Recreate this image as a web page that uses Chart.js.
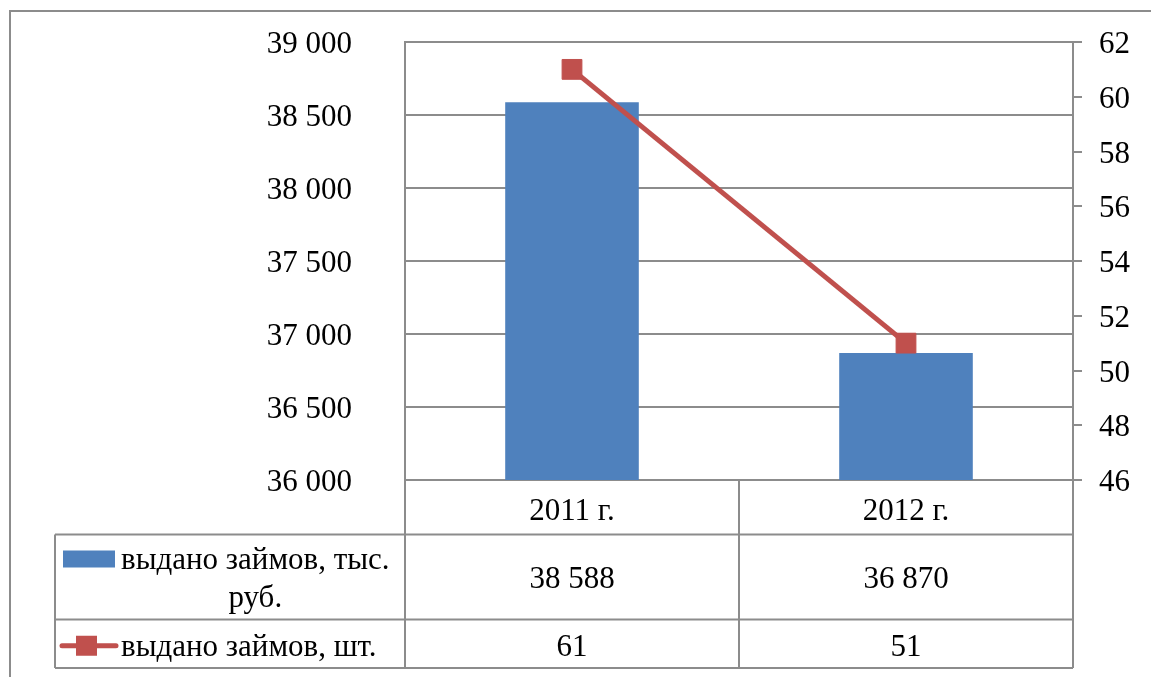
<!DOCTYPE html>
<html>
<head>
<meta charset="utf-8">
<script src="https://cdn.jsdelivr.net/npm/chart.js@4/dist/chart.umd.min.js"></script>
<style>
    body { margin: 0; background: #ffffff; }
    canvas { display: block; }
</style>
</head>
<body>
<canvas id="myChart" width="1151" height="677"></canvas>
<script>
// chart data
const categories = ['2011 г.', '2012 г.'];
const loansRub = [38588, 36870];
const loansCount = [61, 51];
const seriesNames = ['выдано займов, тыс. руб.', 'выдано займов, шт.'];

const leftAxis = { min: 36000, max: 39000, step: 500 };
const rightAxis = { min: 46, max: 62, step: 2 };

const FONT = '"Liberation Serif", "Times New Roman", serif';
const FONT_SIZE = 31;
const GRID = '#8c8c8c';
const BLUE = '#4F81BD';
const RED = '#C0504D';

function fmt(v) {
    return String(v).replace(/\B(?=(\d{3})+(?!\d))/g, ' ');
}

function wrapText(ctx, text, maxWidth) {
    const words = text.split(' ');
    const lines = [];
    let line = '';
    words.forEach(w => {
        const test = line ? line + ' ' + w : w;
        if (line && ctx.measureText(test).width > maxWidth) {
            lines.push(line);
            line = w;
        } else {
            line = test;
        }
    });
    if (line) lines.push(line);
    return lines;
}

// fixed axis width, no extra padding from the big tick padding
function fixAxis(width) {
    return s => {
        s.width = width;
        s.paddingTop = 0;
        s.paddingBottom = 0;
    };
}

// outer frame + data table under the plot
const dataTable = {
    id: 'dataTable',
    beforeDraw(chart) {
        const ctx = chart.ctx;
        ctx.save();
        ctx.fillStyle = '#ffffff';
        ctx.fillRect(0, 0, chart.width, chart.height);
        ctx.strokeStyle = GRID;
        ctx.lineWidth = 2;
        ctx.strokeRect(10, 11, 1400, 900);
        ctx.restore();
    },
    afterDraw(chart) {
        const ctx = chart.ctx;
        const area = chart.chartArea;
        const n = categories.length;
        const colW = (area.right - area.left) / n;
        const tableLeft = 55;
        const yTop = area.bottom;
        const yHead = yTop + 54.5;
        const yRow1 = yHead + 85;
        const yRow2 = yRow1 + 48.5;

        ctx.save();
        ctx.strokeStyle = GRID;
        ctx.lineWidth = 2;
        ctx.beginPath();
        // horizontal lines
        [yHead, yRow1, yRow2].forEach(y => {
            ctx.moveTo(tableLeft, y);
            ctx.lineTo(area.right, y);
        });
        // vertical lines
        for (let i = 0; i <= n; i++) {
            const x = area.left + i * colW;
            ctx.moveTo(x, yTop);
            ctx.lineTo(x, yRow2);
        }
        ctx.moveTo(tableLeft, yHead);
        ctx.lineTo(tableLeft, yRow2);
        ctx.stroke();

        ctx.fillStyle = '#000000';
        ctx.font = `${FONT_SIZE}px ${FONT}`;
        ctx.textAlign = 'center';
        ctx.textBaseline = 'middle';

        const xScale = chart.scales.x;
        const midHead = (yTop + yHead) / 2 + 5;
        const midRow1 = (yHead + yRow1) / 2 + 3;
        const midRow2 = (yRow1 + yRow2) / 2 + 4;
        categories.forEach((c, i) => {
            const cx = xScale.getPixelForValue(i);
            ctx.fillText(c, cx, midHead);
            ctx.fillText(fmt(loansRub[i]), cx, midRow1);
            ctx.fillText(fmt(loansCount[i]), cx, midRow2);
        });

        // legend cells
        const textX = 121;
        const maxW = area.left - textX - 6;
        const lineH = 38;
        const rows = [midRow1, midRow2];
        seriesNames.forEach((name, r) => {
            const lines = wrapText(ctx, name, maxW);
            const firstW = ctx.measureText(lines[0]).width;
            const y0 = rows[r] - (lines.length - 1) * lineH / 2;
            lines.forEach((ln, k) => {
                ctx.fillText(ln, textX + firstW / 2, y0 + k * lineH);
            });
            const ky = y0 - 2;
            if (r === 0) {
                ctx.fillStyle = BLUE;
                ctx.fillRect(63, ky - 8.5, 52, 17);
            } else {
                ctx.strokeStyle = RED;
                ctx.lineWidth = 5;
                ctx.lineCap = 'round';
                ctx.beginPath();
                ctx.moveTo(62, ky);
                ctx.lineTo(116, ky);
                ctx.stroke();
                ctx.fillStyle = RED;
                ctx.fillRect(76, ky - 10, 21, 20);
            }
            ctx.fillStyle = '#000000';
        });
        ctx.restore();
    }
};

function createChart() {
    const ctx = document.getElementById('myChart').getContext('2d');
    new Chart(ctx, {
        data: {
            labels: categories,
            datasets: [
                {
                    type: 'line',
                    label: seriesNames[1],
                    data: loansCount,
                    yAxisID: 'y1',
                    borderColor: RED,
                    borderWidth: 5,
                    tension: 0,
                    pointStyle: 'rect',
                    pointRadius: 14,
                    pointBackgroundColor: RED,
                    pointBorderColor: RED,
                    pointBorderWidth: 1,
                    order: 0
                },
                {
                    type: 'bar',
                    label: seriesNames[0],
                    data: loansRub,
                    yAxisID: 'y',
                    backgroundColor: BLUE,
                    categoryPercentage: 1,
                    barPercentage: 0.4,
                    order: 1
                }
            ]
        },
        options: {
            responsive: false,
            animation: false,
            layout: {
                padding: { left: 0, right: 0, top: 42, bottom: 197 }
            },
            scales: {
                x: {
                    type: 'category',
                    display: false,
                    offset: true
                },
                y: {
                    position: 'left',
                    min: leftAxis.min,
                    max: leftAxis.max,
                    afterFit: fixAxis(405),
                    ticks: {
                        stepSize: leftAxis.step,
                        padding: 53,
                        labelOffset: 3,
                        color: '#000000',
                        font: { family: FONT, size: FONT_SIZE },
                        callback: v => fmt(v)
                    },
                    grid: {
                        color: GRID,
                        lineWidth: 2,
                        drawTicks: false
                    },
                    border: { color: GRID, width: 2 }
                },
                y1: {
                    position: 'right',
                    min: rightAxis.min,
                    max: rightAxis.max,
                    afterFit: fixAxis(78),
                    ticks: {
                        stepSize: rightAxis.step,
                        padding: 17,
                        labelOffset: 3,
                        color: '#000000',
                        font: { family: FONT, size: FONT_SIZE }
                    },
                    grid: {
                        drawOnChartArea: false,
                        color: GRID,
                        lineWidth: 2,
                        tickLength: 9
                    },
                    border: { color: GRID, width: 2 }
                }
            },
            plugins: {
                legend: { display: false },
                tooltip: { enabled: false }
            }
        },
        plugins: [dataTable]
    });
}

document.addEventListener('DOMContentLoaded', createChart);
</script>
</body>
</html>
